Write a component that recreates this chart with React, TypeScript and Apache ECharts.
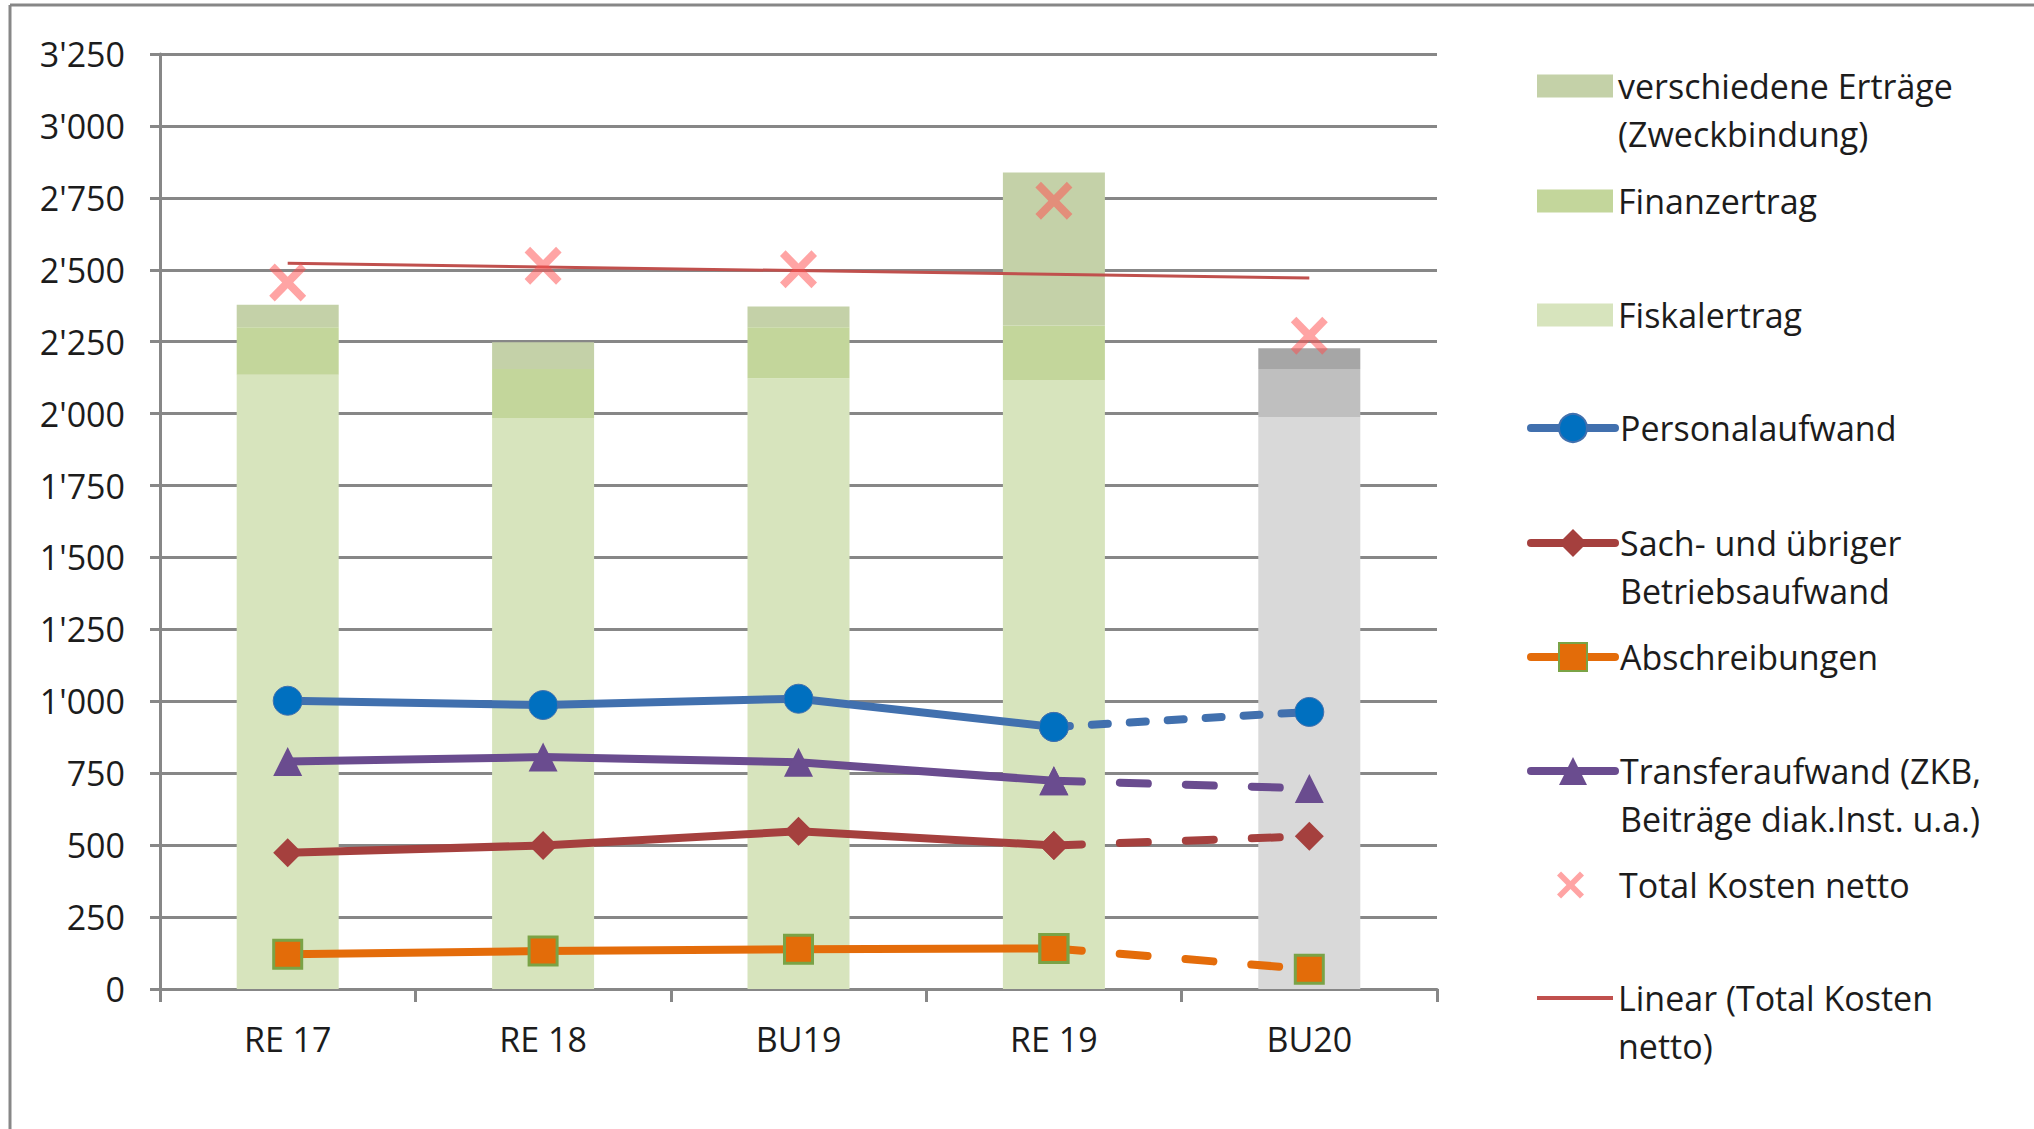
import React, { useEffect, useRef } from "react";
import * as echarts from "echarts";

// ---- data ----
const categories = ["RE 17", "RE 18", "BU19", "RE 19", "BU20"];
const fiskalertrag = [2135, 1985, 2123, 2117, 1987];
const finanzertrag = [165, 170, 177, 189, 168];
const verschiedeneErtraege = [78, 93, 72, 532, 72];
const personalaufwand = [1002, 987, 1009, 911, 963];
const sachaufwand = [474, 499, 548, 499, 531];
const abschreibungen = [121, 132, 138, 141, 69];
const transferaufwand = [791, 806, 788, 724, 697];
const totalKostenNetto = [2456, 2514, 2502, 2740, 2271];
const trendTotalKosten = [2523, null, null, null, 2471];
const yMin = 0;
const yMax = 3250;
const yStep = 250;
const lastActualIndex = 3; // RE 19: from here to BU20 the lines are dashed

const N_VERSCH = "verschiedene Erträge (Zweckbindung)";
const N_FINANZ = "Finanzertrag";
const N_FISKAL = "Fiskalertrag";
const N_PERS = "Personalaufwand";
const N_SACH = "Sach- und übriger Betriebsaufwand";
const N_ABSCH = "Abschreibungen";
const N_TRANS = "Transferaufwand (ZKB, Beiträge diak.Inst. u.a.)";
const N_TOTAL = "Total Kosten netto";
const N_LINEAR = "Linear (Total Kosten netto)";

const legendLabels: Record<string, string[]> = {
  [N_VERSCH]: ["verschiedene Erträge", "(Zweckbindung)"],
  [N_FINANZ]: ["Finanzertrag"],
  [N_FISKAL]: ["Fiskalertrag"],
  [N_PERS]: ["Personalaufwand"],
  [N_SACH]: ["Sach- und übriger", "Betriebsaufwand"],
  [N_ABSCH]: ["Abschreibungen"],
  [N_TRANS]: ["Transferaufwand (ZKB,", "Beiträge diak.Inst. u.a.)"],
  [N_TOTAL]: ["Total Kosten netto"],
  [N_LINEAR]: ["Linear (Total Kosten", "netto)"],
};

const FONT = "'Open Sans', 'Noto Sans', sans-serif";
const FS = 34;
const TEXT = "#1c1c1c";
const AXIS = "#878787";
const X_PATH =
  "path://M3,0 L10,7 L17,0 L20,3 L13,10 L20,17 L17,20 L10,13 L3,20 L0,17 L7,10 L0,3 Z";

const fmtY = (v: number) => {
  if (v < 1000) return String(v);
  const th = Math.floor(v / 1000);
  const rest = String(v % 1000).padStart(3, "0");
  return th + "'" + rest;
};

const LH = 48;

function legendItem(
  name: string,
  centerY: number,
  kind: "bar" | "line" | "x" | "trend"
) {
  const lines = legendLabels[name];
  const n = lines.length;
  let ih = 23;
  let iw = 76;
  let left = 1537;
  if (kind === "line") {
    ih = 35;
    iw = 84;
    left = 1527;
  } else if (kind === "x") {
    ih = 27;
    iw = 27;
    left = 1557;
  } else if (kind === "trend") {
    ih = 4;
    iw = 76;
    left = 1537;
  }
  // two-line labels get an empty first line so that the icon lines up with the first text line
  const textH = n === 2 ? LH * 3 : LH;
  const top = centerY - Math.max(textH, ih) / 2;
  const item: any = { name };
  if (kind === "bar") item.icon = "rect";
  if (kind === "trend") item.icon = "rect";
  const formatter = (nm: string) => {
    const ls = legendLabels[nm] || [nm];
    if (kind === "x") return "{sp|}{t|" + ls[0] + "}";
    return ls.length === 2 ? "\n" + ls.join("\n") : ls[0];
  };
  const textStyle: any = {
    fontFamily: FONT,
    fontSize: FS,
    color: TEXT,
    lineHeight: LH,
  };
  if (kind === "x") {
    textStyle.rich = {
      sp: { width: 30, height: LH },
      t: { fontFamily: FONT, fontSize: FS, color: TEXT, lineHeight: LH },
    };
  }
  const lg: any = {
    show: true,
    selectedMode: false,
    left,
    top,
    padding: 0,
    itemWidth: iw,
    itemHeight: ih,
    symbolKeepAspect: true,
    data: [item],
    formatter,
    textStyle,
  };
  if (kind === "line") lg.lineStyle = { width: 8, cap: "round" };
  if (kind === "trend") lg.itemStyle = { color: "#C0504D" };
  return lg;
}

function lineSeries(
  name: string,
  values: number[],
  color: string,
  symbol: string,
  symbolSize: number,
  itemStyle: any,
  dash: number[]
) {
  const solid = values.map((v, i) => (i <= lastActualIndex ? v : null));
  const dashed = values.map((v, i) => (i >= lastActualIndex ? v : null));
  return [
    {
      name,
      type: "line",
      data: solid,
      symbol,
      symbolSize,
      showAllSymbol: true,
      lineStyle: { color, width: 8, cap: "round", join: "round" },
      itemStyle,
      z: 5,
    },
    {
      name: name + " (Budget)",
      type: "line",
      data: dashed,
      symbol,
      symbolSize,
      showAllSymbol: true,
      lineStyle: { color, width: 8, type: dash, cap: "round" },
      itemStyle,
      z: 5,
    },
  ];
}

export default function App() {
  const ref = useRef<HTMLDivElement>(null);

  useEffect(() => {
    if (!ref.current) return;
    const chart = echarts.init(ref.current, undefined, { renderer: "svg" });

    const barData = (vals: number[], green: string, gray: string) =>
      vals.map((v, i) => ({
        value: v,
        itemStyle: { color: i === vals.length - 1 ? gray : green },
      }));

    const option: any = {
      animation: false,
      backgroundColor: "#ffffff",
      textStyle: { fontFamily: FONT },
      grid: { left: 160, top: 54, width: 1277, height: 935, containLabel: false },
      legend: [
        legendItem(N_VERSCH, 86, "bar"),
        legendItem(N_FINANZ, 201, "bar"),
        legendItem(N_FISKAL, 315, "bar"),
        legendItem(N_PERS, 428, "line"),
        legendItem(N_SACH, 543, "line"),
        legendItem(N_ABSCH, 657, "line"),
        legendItem(N_TRANS, 771, "line"),
        legendItem(N_TOTAL, 885, "x"),
        legendItem(N_LINEAR, 998, "trend"),
      ],
      xAxis: {
        type: "category",
        data: categories,
        boundaryGap: true,
        axisLine: { show: true, lineStyle: { color: AXIS, width: 3 } },
        axisTick: { show: true, length: 13, lineStyle: { color: AXIS, width: 3 } },
        axisLabel: {
          fontFamily: FONT,
          fontSize: FS,
          color: TEXT,
          lineHeight: 40,
          margin: 30,
        },
        splitLine: { show: false },
      },
      yAxis: {
        type: "value",
        min: yMin,
        max: yMax,
        interval: yStep,
        axisLine: { show: true, lineStyle: { color: AXIS, width: 3 } },
        axisTick: { show: true, length: 10, lineStyle: { color: AXIS, width: 3 } },
        axisLabel: {
          fontFamily: FONT,
          fontSize: FS,
          color: TEXT,
          margin: 35,
          formatter: (v: number) => fmtY(v),
        },
        splitLine: { show: true, lineStyle: { color: AXIS, width: 3 } },
      },
      series: [
        {
          name: N_FISKAL,
          type: "bar",
          stack: "ertrag",
          barWidth: 102,
          data: barData(fiskalertrag, "#D7E4BD", "#D9D9D9"),
          itemStyle: { color: "#D7E4BD" },
          z: 2,
        },
        {
          name: N_FINANZ,
          type: "bar",
          stack: "ertrag",
          barWidth: 102,
          data: barData(finanzertrag, "#C3D69B", "#BFBFBF"),
          itemStyle: { color: "#C3D69B" },
          z: 2,
        },
        {
          name: N_VERSCH,
          type: "bar",
          stack: "ertrag",
          barWidth: 102,
          data: barData(verschiedeneErtraege, "#C4D1A8", "#A6A6A6"),
          itemStyle: { color: "#C4D1A8" },
          z: 2,
        },
        {
          name: N_LINEAR,
          type: "line",
          data: trendTotalKosten,
          connectNulls: true,
          symbol: "none",
          lineStyle: { color: "#C0504D", width: 3 },
          itemStyle: { color: "#C0504D" },
          z: 3,
        },
        {
          name: N_TOTAL,
          type: "scatter",
          data: totalKostenNetto,
          symbol: X_PATH,
          symbolSize: [37, 38],
          itemStyle: { color: "rgba(255, 80, 80, 0.65)" },
          z: 4,
        },
        ...lineSeries(
          N_PERS,
          personalaufwand,
          "#4170AE",
          "circle",
          29,
          { color: "#0070C0", borderColor: "#4170AE", borderWidth: 1 },
          [16, 22]
        ),
        ...lineSeries(
          N_TRANS,
          transferaufwand,
          "#6A4C8F",
          "triangle",
          29,
          { color: "#6A4C8F" },
          [28, 38]
        ),
        ...lineSeries(
          N_SACH,
          sachaufwand,
          "#A5403E",
          "diamond",
          29,
          { color: "#A5403E" },
          [28, 38]
        ),
        ...lineSeries(
          N_ABSCH,
          abschreibungen,
          "#E46C0A",
          "rect",
          28,
          { color: "#E36C09", borderColor: "#7AA346", borderWidth: 3 },
          [28, 38]
        ),
      ],
      graphic: [
        {
          type: "line",
          shape: { x1: 10, y1: 5, x2: 2034, y2: 5 },
          style: { stroke: AXIS, lineWidth: 3 },
          silent: true,
        },
        {
          type: "line",
          shape: { x1: 10, y1: 5, x2: 10, y2: 1129 },
          style: { stroke: AXIS, lineWidth: 3 },
          silent: true,
        },
      ],
    };

    chart.setOption(option);
    return () => chart.dispose();
  }, []);

  return (
    <div
      ref={ref}
      style={{
        position: "absolute",
        left: 0,
        top: 0,
        width: 2034,
        height: 1129,
        background: "#ffffff",
      }}
    />
  );
}
